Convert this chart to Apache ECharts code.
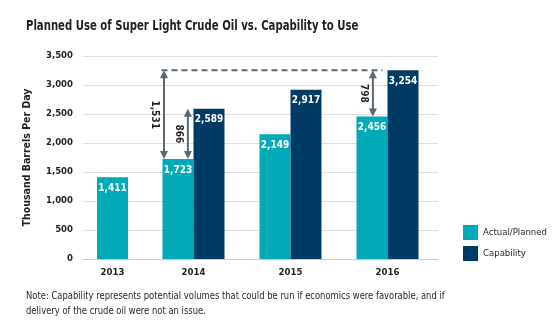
<!DOCTYPE html>
<html><head><meta charset="utf-8">
<script src="https://cdn.jsdelivr.net/npm/echarts@6/dist/echarts.min.js"></script>
<style>html,body{margin:0;padding:0;background:#fff}#c{width:558px;height:326px}</style>
</head><body><div id="c"></div>
<script>
// ---- data ----
const categories = ['2013', '2014', '2015', '2016'];
const actualPlanned = [1411, 1723, 2149, 2456];
const capability = [null, 2589, 2917, 3254];
const yMin = 0, yMax = 3500, yStep = 500;
// gap annotations: category of the arrow, from value, to value
const gapCats = ['2014', '2014', '2016'];
const gapFrom = [1723, 1723, 2456];
const gapTo = [3254, 2589, 3254];
const refLineValue = 3254;
const titleText = 'Planned Use of Super Light Crude Oil vs. Capability to Use';
const noteLines = ['Note: Capability represents potential volumes that could be run if economics were favorable, and if',
                   'delivery of the crude oil were not an issue.'];
const yName = 'Thousand Barrels Per Day';

// ---- style ----
const FONT = '"DejaVu Sans Condensed","Liberation Sans Narrow",sans-serif';
const TEAL = '#00AAB8';
const NAVY = '#003B66';
const ANN = '#5C6871';
const TXT = '#231F20';
const fmt = v => Number(v).toLocaleString('en-US');

const chart = echarts.init(document.getElementById('c'), null, {renderer: 'canvas'});
const labelCfg = {show: true, position: 'insideTop', distance: 6, color: '#fff', fontFamily: FONT, fontWeight: 'bold', fontSize: 10, formatter: p => fmt(p.value)};
const xLabel = {color: TXT, fontFamily: FONT, fontWeight: 'bold', fontSize: 9.5, margin: 9};
const G = {top: 56, bottom: 67};

chart.setOption({
  animation: false,
  legend: {
    orient: 'vertical', left: 458, top: 220, itemWidth: 15, itemHeight: 15, itemGap: 6, icon: 'rect',
    data: ['Actual/Planned', 'Capability'],
    textStyle: {fontFamily: FONT, fontSize: 9.5, color: TXT}
  },
  grid: [
    Object.assign({left: 83, right: 120}, G),
    Object.assign({left: 83, width: 59}, G),
    Object.assign({left: 145, width: 291}, G)
  ],
  xAxis: [
    {gridIndex: 0, type: 'category', data: [''], axisLine: {lineStyle: {color: '#c9c9c9', width: 1}}, axisTick: {show: false}, axisLabel: {show: false}},
    {gridIndex: 1, type: 'category', data: categories.slice(0, 1), axisLine: {show: false}, axisTick: {show: false}, axisLabel: xLabel},
    {gridIndex: 2, type: 'category', data: categories.slice(1), axisLine: {show: false}, axisTick: {show: false}, axisLabel: xLabel}
  ],
  yAxis: [
    {gridIndex: 0, type: 'value', min: yMin, max: yMax, interval: yStep,
     name: yName, nameLocation: 'middle', nameGap: 50, nameRotate: 90,
     nameTextStyle: {fontFamily: FONT, fontWeight: 'bold', fontSize: 10.5, color: TXT},
     axisLine: {show: false}, axisTick: {show: false},
     axisLabel: {color: TXT, fontFamily: FONT, fontWeight: 'bold', fontSize: 9.5, margin: 10, formatter: v => fmt(v)},
     splitLine: {lineStyle: {color: '#dedede', width: 1}}},
    {gridIndex: 1, type: 'value', min: yMin, max: yMax, interval: yStep, show: false},
    {gridIndex: 2, type: 'value', min: yMin, max: yMax, interval: yStep, show: false}
  ],
  series: [
    {name: 'Actual/Planned', type: 'bar', xAxisIndex: 1, yAxisIndex: 1, data: actualPlanned.slice(0, 1), barWidth: 31, itemStyle: {color: TEAL}, label: labelCfg},
    {name: 'Actual/Planned', type: 'bar', xAxisIndex: 2, yAxisIndex: 2, data: actualPlanned.slice(1), barWidth: 31, barGap: '0%', itemStyle: {color: TEAL}, label: labelCfg},
    {name: 'Capability', type: 'bar', xAxisIndex: 2, yAxisIndex: 2, data: capability.slice(1), barWidth: 31, barGap: '0%', itemStyle: {color: NAVY}, label: labelCfg}
  ]
});

// ---- annotations (positions from the chart's own scales) ----
const px = (cat, v) => chart.convertToPixel({seriesIndex: 1}, [cat, v]);
const arrowDx = [-29.5, -5.6, -14.6];
const labelDx = -9.5;
const graphics = [];
// title and note as condensed text
graphics.push({type: 'text', x: 26, y: 26, scaleX: 0.775,
  style: {text: titleText, fill: TXT, font: 'bold 14.5px ' + FONT, align: 'left', verticalAlign: 'middle'}});
noteLines.forEach((t, i) => graphics.push({type: 'text', x: 26, y: 296 + i * 15, scaleX: 0.85,
  style: {text: t, fill: TXT, font: '11px ' + FONT, align: 'left', verticalAlign: 'middle'}}));
function arrow(x, yTop, yBot) {
  const h = 8, w = 4;
  graphics.push({type: 'line', shape: {x1: x, y1: yTop + h - 1, x2: x, y2: yBot - h + 1}, style: {stroke: ANN, lineWidth: 2}, z: 10});
  graphics.push({type: 'polygon', shape: {points: [[x, yTop], [x - w, yTop + h], [x + w, yTop + h]]}, style: {fill: ANN}, z: 10});
  graphics.push({type: 'polygon', shape: {points: [[x, yBot], [x - w, yBot - h], [x + w, yBot - h]]}, style: {fill: ANN}, z: 10});
}
gapCats.forEach((cat, i) => {
  const top = px(cat, gapTo[i]);
  const bot = px(cat, gapFrom[i]);
  const x = top[0] + arrowDx[i];
  arrow(x, top[1], bot[1]);
  graphics.push({type: 'text', x: x + labelDx, y: (top[1] + bot[1]) / 2, rotation: -Math.PI / 2,
    style: {text: fmt(gapTo[i] - gapFrom[i]), fill: TXT, font: 'bold 10px ' + FONT, align: 'center', verticalAlign: 'middle'}, z: 10});
});
const dStart = px(gapCats[0], refLineValue);
const dEnd = px(gapCats[2], refLineValue);
graphics.push({type: 'line', shape: {x1: dStart[0] - 32, y1: dStart[1], x2: dEnd[0] - 5, y2: dEnd[1]},
  style: {stroke: ANN, lineWidth: 2, lineDash: [6, 4]}, z: 9});
chart.setOption({graphic: graphics});
</script></body></html>
